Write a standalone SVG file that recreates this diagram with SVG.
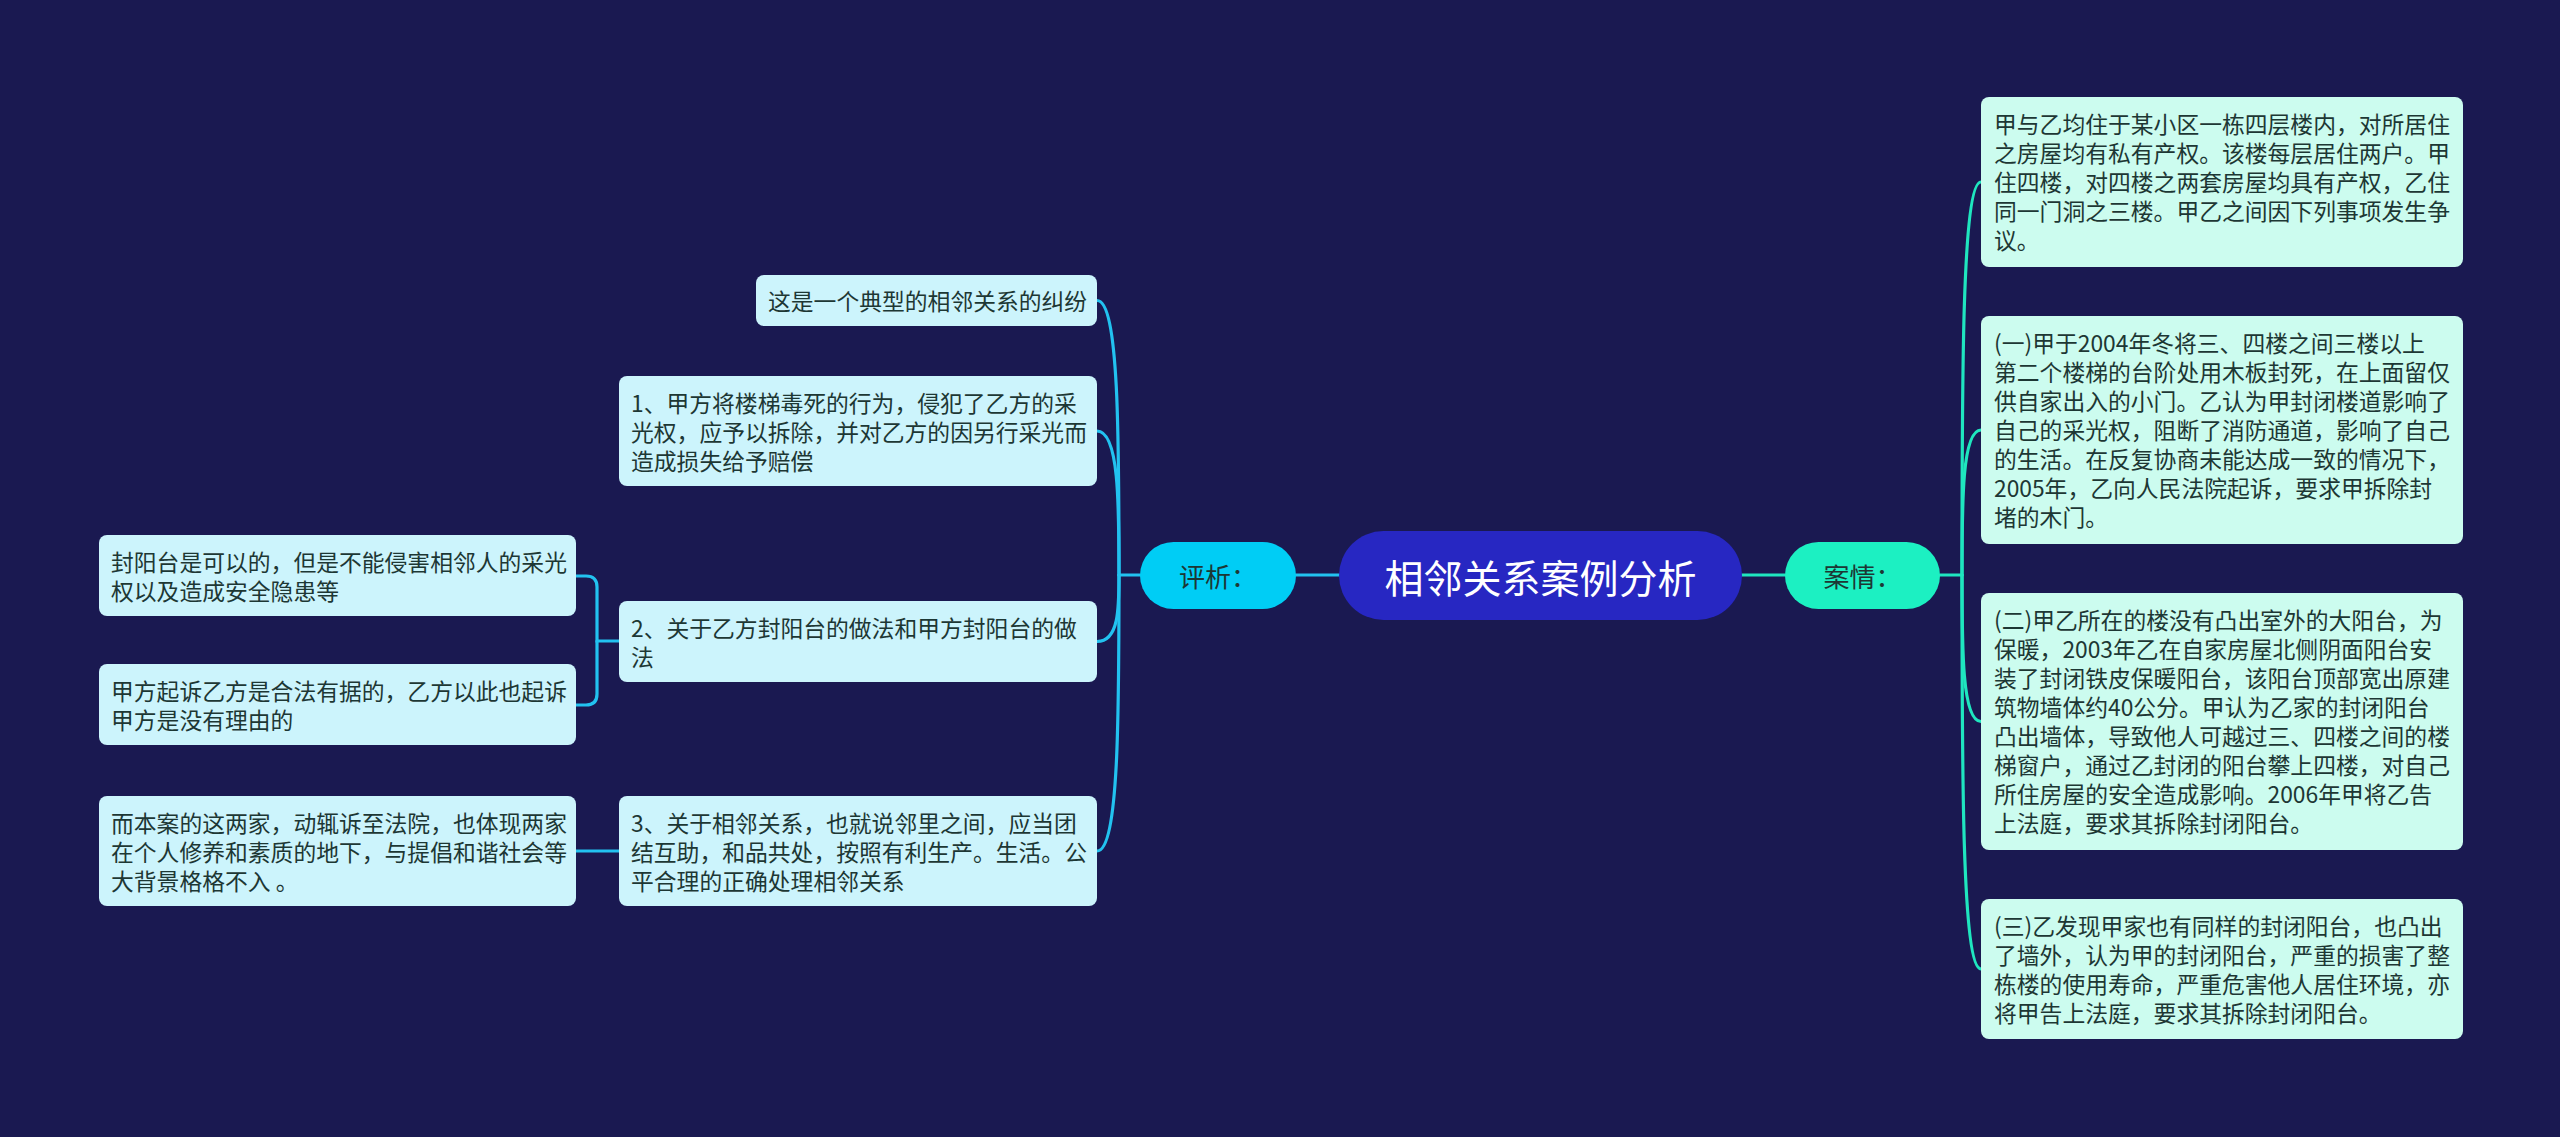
<svg xmlns="http://www.w3.org/2000/svg" width="2560" height="1137" viewBox="0 0 2560 1137">
<style>
.bg{fill:#1a1951}
.lb{fill:#ccf4fc}
.rb{fill:#ccfcef}
.t{font-family:"Noto Sans CJK SC","Noto Sans",sans-serif;font-size:22.8px;fill:#1d3734;dominant-baseline:central}
.c1{fill:none;stroke:#22c2f0;stroke-width:3.2;stroke-linecap:round}
.c2{fill:none;stroke:#1fe6bf;stroke-width:3.2;stroke-linecap:round}
.l1{font-family:"Noto Sans CJK SC","Noto Sans",sans-serif;font-size:26px;fill:#1d3734;dominant-baseline:central;text-anchor:middle}
.root{font-family:"Noto Sans CJK SC","Noto Sans",sans-serif;font-size:39px;fill:#ffffff;dominant-baseline:central;text-anchor:middle}
</style>
<rect class="bg" x="0" y="0" width="2560" height="1137"/>
<g id="connectors">
<path class="c1" d="M1296 575 H1339"/>
<path class="c2" d="M1742 575 H1785"/>
<path class="c1" d="M1140 575 H1119"/>
<path class="c1" d="M1119 575 C1119 437.75 1119 300.5 1097 300.5"/>
<path class="c1" d="M1119 575 C1119 503 1119 431 1097 431"/>
<path class="c1" d="M1119 575 C1119 608 1119 641.5 1097 641.5"/>
<path class="c1" d="M1119 575 C1119 713 1119 851 1097 851"/>
<path class="c1" d="M619 641 H597 V587 Q597 576 586 576 H576"/>
<path class="c1" d="M597 641 V694 Q597 705 586 705 H576"/>
<path class="c1" d="M619 851 H576"/>
<path class="c2" d="M1940 575 H1962"/>
<path class="c2" d="M1962 575 C1962 378.5 1962 182 1981 182"/>
<path class="c2" d="M1962 575 C1962 502.5 1962 430 1981 430"/>
<path class="c2" d="M1962 575 C1962 648 1962 721.5 1981 721.5"/>
<path class="c2" d="M1962 575 C1962 772 1962 969 1981 969"/>
</g>
<g id="root">
<rect x="1339" y="531" width="403" height="89" rx="44.5" fill="#2727c2"/>
<text class="root" x="1540.5" y="575.5">相邻关系案例分析</text>
</g>
<g id="pingxi">
<rect x="1140" y="542" width="156" height="67" rx="33.5" fill="#00cdf5"/>
<text class="l1" x="1218" y="575.5">评析：</text>
</g>
<g id="anqing">
<rect x="1785" y="542" width="155" height="67" rx="33.5" fill="#1cf0c2"/>
<text class="l1" x="1862.5" y="575.5">案情：</text>
</g>
<g id="l-a">
<rect class="lb" x="756" y="275" width="341" height="51" rx="8"/>
<text class="t" x="768" y="300.5">这是一个典型的相邻关系的纠纷</text>
</g>
<g id="l-1">
<rect class="lb" x="619" y="376" width="478" height="110" rx="8"/>
<text class="t" x="631" y="402.5">1、甲方将楼梯毒死的行为，侵犯了乙方的采</text>
<text class="t" x="631" y="431.5">光权，应予以拆除，并对乙方的因另行采光而</text>
<text class="t" x="631" y="460.5">造成损失给予赔偿</text>
</g>
<g id="l-2">
<rect class="lb" x="619" y="601" width="478" height="81" rx="8"/>
<text class="t" x="631" y="627.5">2、关于乙方封阳台的做法和甲方封阳台的做</text>
<text class="t" x="631" y="656.5">法</text>
</g>
<g id="l-3">
<rect class="lb" x="619" y="796" width="478" height="110" rx="8"/>
<text class="t" x="631" y="822.5">3、关于相邻关系，也就说邻里之间，应当团</text>
<text class="t" x="631" y="851.5">结互助，和品共处，按照有利生产。生活。公</text>
<text class="t" x="631" y="880.5">平合理的正确处理相邻关系</text>
</g>
<g id="l-2a">
<rect class="lb" x="99" y="535" width="477" height="81" rx="8"/>
<text class="t" x="111" y="561.5">封阳台是可以的，但是不能侵害相邻人的采光</text>
<text class="t" x="111" y="590.5">权以及造成安全隐患等</text>
</g>
<g id="l-2b">
<rect class="lb" x="99" y="664" width="477" height="81" rx="8"/>
<text class="t" x="111" y="690.5">甲方起诉乙方是合法有据的，乙方以此也起诉</text>
<text class="t" x="111" y="719.5">甲方是没有理由的</text>
</g>
<g id="l-3a">
<rect class="lb" x="99" y="796" width="477" height="110" rx="8"/>
<text class="t" x="111" y="822.5">而本案的这两家，动辄诉至法院，也体现两家</text>
<text class="t" x="111" y="851.5">在个人修养和素质的地下，与提倡和谐社会等</text>
<text class="t" x="111" y="880.5">大背景格格不入 。</text>
</g>
<g id="r-1">
<rect class="rb" x="1981" y="97" width="482" height="170" rx="8"/>
<text class="t" x="1994" y="123.5">甲与乙均住于某小区一栋四层楼内，对所居住</text>
<text class="t" x="1994" y="152.5">之房屋均有私有产权。该楼每层居住两户。甲</text>
<text class="t" x="1994" y="181.5">住四楼，对四楼之两套房屋均具有产权，乙住</text>
<text class="t" x="1994" y="210.5">同一门洞之三楼。甲乙之间因下列事项发生争</text>
<text class="t" x="1994" y="239.5">议。</text>
</g>
<g id="r-2">
<rect class="rb" x="1981" y="316" width="482" height="228" rx="8"/>
<text class="t" x="1994" y="342.5">(一)甲于2004年冬将三、四楼之间三楼以上</text>
<text class="t" x="1994" y="371.5">第二个楼梯的台阶处用木板封死，在上面留仅</text>
<text class="t" x="1994" y="400.5">供自家出入的小门。乙认为甲封闭楼道影响了</text>
<text class="t" x="1994" y="429.5">自己的采光权，阻断了消防通道，影响了自己</text>
<text class="t" x="1994" y="458.5">的生活。在反复协商未能达成一致的情况下，</text>
<text class="t" x="1994" y="487.5">2005年，乙向人民法院起诉，要求甲拆除封</text>
<text class="t" x="1994" y="516.5">堵的木门。</text>
</g>
<g id="r-3">
<rect class="rb" x="1981" y="593" width="482" height="257" rx="8"/>
<text class="t" x="1994" y="619.5">(二)甲乙所在的楼没有凸出室外的大阳台，为</text>
<text class="t" x="1994" y="648.5">保暖，2003年乙在自家房屋北侧阴面阳台安</text>
<text class="t" x="1994" y="677.5">装了封闭铁皮保暖阳台，该阳台顶部宽出原建</text>
<text class="t" x="1994" y="706.5">筑物墙体约40公分。甲认为乙家的封闭阳台</text>
<text class="t" x="1994" y="735.5">凸出墙体，导致他人可越过三、四楼之间的楼</text>
<text class="t" x="1994" y="764.5">梯窗户，通过乙封闭的阳台攀上四楼，对自己</text>
<text class="t" x="1994" y="793.5">所住房屋的安全造成影响。2006年甲将乙告</text>
<text class="t" x="1994" y="822.5">上法庭，要求其拆除封闭阳台。</text>
</g>
<g id="r-4">
<rect class="rb" x="1981" y="899" width="482" height="140" rx="8"/>
<text class="t" x="1994" y="925.5">(三)乙发现甲家也有同样的封闭阳台，也凸出</text>
<text class="t" x="1994" y="954.5">了墙外，认为甲的封闭阳台，严重的损害了整</text>
<text class="t" x="1994" y="983.5">栋楼的使用寿命，严重危害他人居住环境，亦</text>
<text class="t" x="1994" y="1012.5">将甲告上法庭，要求其拆除封闭阳台。</text>
</g>
</svg>
